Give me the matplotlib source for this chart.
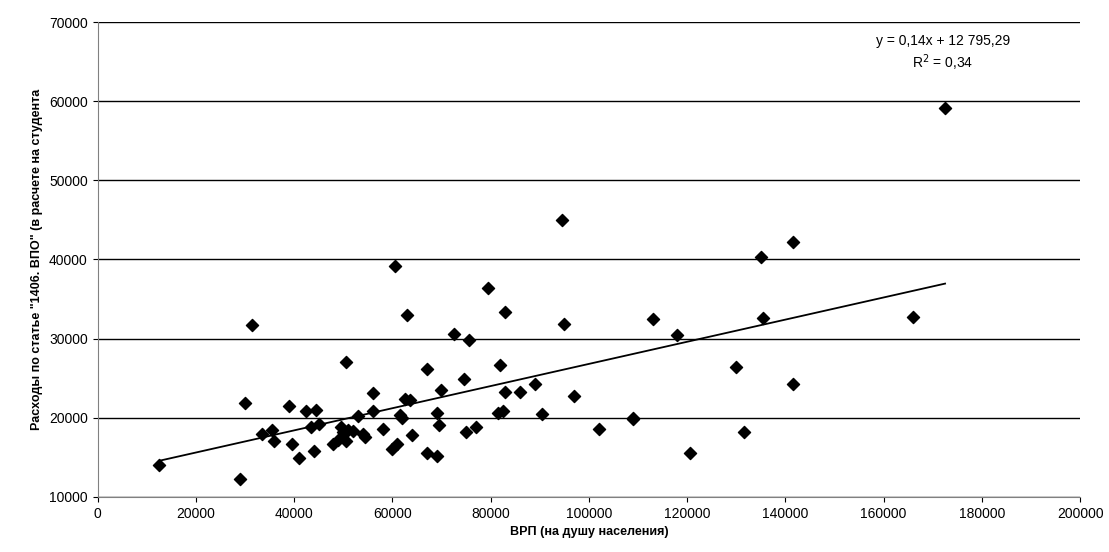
import numpy as np
import matplotlib.pyplot as plt

plt.rcParams['font.family'] = ['Liberation Sans', 'DejaVu Sans']

grp = [12500, 29000, 30000, 31500, 33500, 35500, 36000, 39000, 39500, 41000,
       42500, 43500, 44000, 44500, 45000, 48000, 49000, 49500, 50000, 50500,
       50500, 51000, 52000, 53000, 54000, 54500, 56000, 56000, 58000, 60000,
       60500, 61000, 61500, 62000, 62500, 63000, 63500, 64000, 67000, 67000,
       69000, 69000, 69500, 70000, 72500, 74500, 75000, 75500, 77000, 79500,
       81500, 82000, 82500, 83000, 83000, 86000, 89000, 90500, 94500, 95000,
       97000, 102000, 109000, 109000, 113000, 118000, 120500, 130000, 131500, 135000,
       135500, 141500, 141500, 166000, 172500]
spend = [14000, 12200, 21900, 31700, 17900, 18500, 17000, 21500, 16700, 14900,
         20800, 18800, 15800, 21000, 19200, 16700, 17200, 18800, 18200, 27000,
         17000, 18500, 18300, 20200, 18000, 17500, 23100, 20800, 18600, 16000,
         39200, 16700, 20300, 20000, 22300, 33000, 22200, 17800, 26200, 15500,
         20600, 15100, 19100, 23500, 30600, 24900, 18200, 29800, 18800, 36400,
         20600, 26700, 20900, 23300, 33400, 23300, 24200, 20500, 45000, 31900,
         22700, 18600, 20000, 19800, 32500, 30500, 15500, 26400, 18200, 40300,
         32600, 42200, 24300, 32700, 59200]
slope, intercept = 0.14, 12795.29

fig = plt.figure(figsize=(11.09, 5.52), dpi=100)
ax = fig.add_axes([0.088, 0.1, 0.886, 0.86])
ax.scatter(grp, spend, marker='D', s=38, color='black', zorder=3)
xl = np.array([min(grp), max(grp)])
ax.plot(xl, slope * xl + intercept, color='black', lw=1.3, zorder=2)

ax.set_xlim(0, 200000)
ax.set_ylim(10000, 70000)
ax.set_xticks(np.arange(0, 200001, 20000))
ax.set_yticks(np.arange(10000, 70001, 10000))
ax.yaxis.grid(True, color='black', lw=1)
ax.set_axisbelow(True)
for s in ['top', 'right']:
    ax.spines[s].set_visible(False)
ax.spines['left'].set_color('gray')
ax.spines['bottom'].set_color('gray')
ax.tick_params(labelsize=10, direction='out', colors='black')
ax.set_xlabel('ВРП (на душу населения)', fontsize=9, fontweight='bold')
ax.set_ylabel('Расходы по статье "1406. ВПО" (в расчете на студента', fontsize=9, fontweight='bold')
ax.text(172000, 66000, 'y = 0,14x + 12 795,29\nR$^2$ = 0,34', ha='center', va='center',
        fontsize=10, linespacing=1.3)

fig.savefig('out.png', dpi=100)
